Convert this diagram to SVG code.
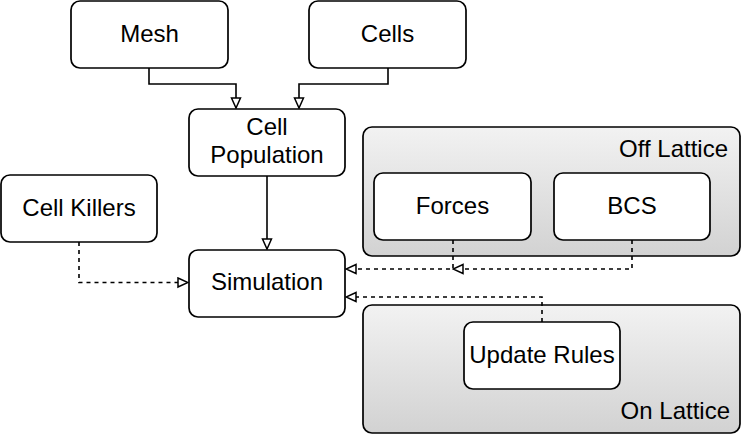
<svg xmlns="http://www.w3.org/2000/svg" width="741" height="434" viewBox="0 0 741 434">
<defs>
<linearGradient id="grp" x1="0" y1="0" x2="0" y2="1">
<stop offset="0" stop-color="#f2f2f2"/>
<stop offset="1" stop-color="#d2d2d2"/>
</linearGradient>
<marker id="arr" markerUnits="userSpaceOnUse" markerWidth="12" markerHeight="12" refX="10" refY="5" orient="auto" viewBox="-1 -1 12 12">
<path d="M0,0.5 L10,5 L0,9.5 Z" fill="#fff" stroke="#000" stroke-width="1.5"/>
</marker>
<style>
.box{fill:#fff;stroke:#000;stroke-width:1.7}
.grp{fill:url(#grp);stroke:#000;stroke-width:1.7}
text{font-family:"Liberation Sans",Arial,sans-serif;font-size:24px;fill:#000}
.c{text-anchor:middle}
.r{text-anchor:end}
.ln{fill:none;stroke:#000;stroke-width:1.6;marker-end:url(#arr)}
.d{stroke-dasharray:4 4}
</style>
</defs>
<g id="off-lattice">
<rect class="grp" x="363" y="127" width="377" height="129" rx="9"/>
<text class="r" x="728" y="157">Off Lattice</text>
</g>
<g id="on-lattice">
<rect class="grp" x="363" y="305" width="377" height="128" rx="9"/>
<text class="r" x="730" y="419">On Lattice</text>
</g>
<g id="mesh">
<rect class="box" x="71" y="1" width="157" height="67" rx="9"/>
<text class="c" x="149.5" y="42">Mesh</text>
</g>
<g id="cells">
<rect class="box" x="309" y="1" width="157" height="67" rx="9"/>
<text class="c" x="387.5" y="42">Cells</text>
</g>
<g id="cell-population">
<rect class="box" x="189" y="109" width="156" height="67" rx="9"/>
<text class="c" x="267" y="135">Cell</text>
<text class="c" x="267" y="163">Population</text>
</g>
<g id="cell-killers">
<rect class="box" x="1" y="175" width="156" height="67" rx="9"/>
<text class="c" x="79" y="216">Cell Killers</text>
</g>
<g id="simulation">
<rect class="box" x="189" y="250" width="156" height="67" rx="9"/>
<text class="c" x="267" y="290">Simulation</text>
</g>
<g id="forces">
<rect class="box" x="374" y="173" width="157" height="67" rx="9"/>
<text class="c" x="452.5" y="214">Forces</text>
</g>
<g id="bcs">
<rect class="box" x="554" y="173" width="156" height="67" rx="9"/>
<text class="c" x="632" y="214">BCS</text>
</g>
<g id="update-rules">
<rect class="box" x="464" y="322" width="156" height="67" rx="9"/>
<text class="c" x="542" y="363">Update Rules</text>
</g>
<g id="connectors">
<path class="ln" d="M149,68 V84 H236 V108"/>
<path class="ln" d="M388,68 V84 H299 V108"/>
<path class="ln" d="M267,176 V249"/>
<path class="ln d" d="M79,242 V282.5 H188"/>
<path class="ln d" d="M453,240 V269 H346"/>
<path class="ln d" d="M632,240 V269 H453"/>
<path class="ln d" d="M542,322 V297 H346"/>
</g>
</svg>
